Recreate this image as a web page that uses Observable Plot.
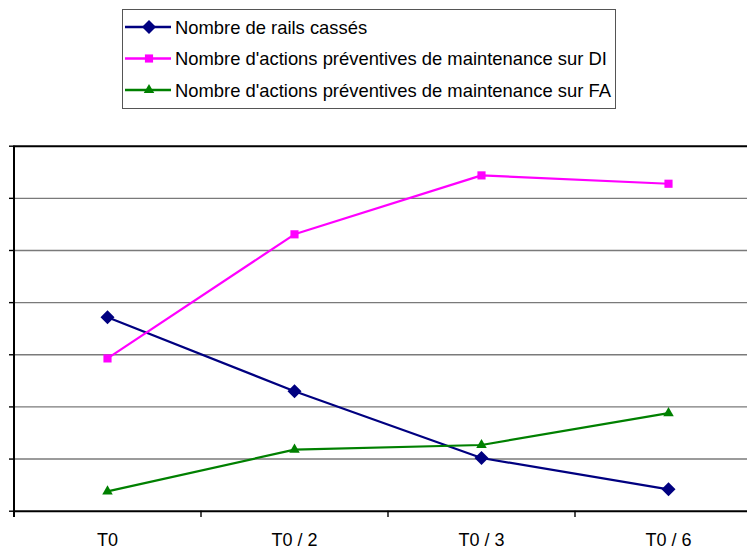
<!DOCTYPE html>
<html><head><meta charset="utf-8">
<script src="https://cdn.jsdelivr.net/npm/d3@7"></script>
<script src="https://cdn.jsdelivr.net/npm/@observablehq/plot@0.6"></script>
<style>
body{margin:0;background:#fff;font-family:"Liberation Sans",Arial,sans-serif;}
#wrap{position:relative;width:747px;height:550px;overflow:hidden;background:#fff;}
#chart{position:absolute;left:0;top:0;}
#legend{position:absolute;left:122px;top:9px;width:492px;height:98px;border:1px solid #555;background:#fff;}
#legend svg{display:block;}
</style></head><body>
<div id="wrap"><div id="chart"></div><div id="legend"></div></div>
<script>
const periods = ["T0", "T0 / 2", "T0 / 3", "T0 / 6"];
const railsCasses = [3.72, 2.30, 1.02, 0.42];
const actionsDI = [2.93, 5.31, 6.44, 6.28];
const actionsFA = [0.38, 1.18, 1.27, 1.88];
const seriesNames = [
  "Nombre de rails cassés",
  "Nombre d'actions préventives de maintenance sur DI",
  "Nombre d'actions préventives de maintenance sur FA"
];
const seriesColors = ["#000080", "#ff00ff", "#008000"];
const gridTicks = [0, 1, 2, 3, 4, 5, 6, 7];

const diamond = {draw(ctx, size) {const h = Math.sqrt(size / 2); ctx.moveTo(0, -h); ctx.lineTo(h, 0); ctx.lineTo(0, h); ctx.lineTo(-h, 0); ctx.closePath();}};
const seriesValues = [railsCasses, actionsDI, actionsFA];
const symbols = [diamond, "square", "triangle"];
const radii = [5.6, 4.6, 3.9];

const rows = [];
seriesValues.forEach((vals, s) => vals.forEach((v, i) => rows.push({serie: s, period: periods[i], value: v})));

const marks = [
  Plot.gridY(gridTicks.slice(1, -1), {stroke: "#7a7a7a", strokeOpacity: 1, strokeWidth: 1.4}),
  Plot.ruleY([0, 7], {stroke: "#000", strokeWidth: 2}),
  Plot.axisY({ticks: gridTicks, tickSize: 4, tickFormat: () => "", label: null, anchor: "left", stroke: "#000", strokeWidth: 1.4}),
  Plot.ruleX(periods, {x: d => d, dx: -93.5, y1: -0.12, y2: 0, stroke: "#000", strokeWidth: 1.4}),
  Plot.ruleX([periods[0]], {x: d => d, dx: -93.5, y1: -0.12, y2: 7, stroke: "#000", strokeWidth: 2}),
  Plot.text(periods, {x: d => d, y: 0, dy: 29, text: d => d, fontSize: 18, fill: "#000", fontFamily: "Liberation Sans, Arial, sans-serif"})
];
[0, 1, 2].forEach(s => {
  const d = rows.filter(r => r.serie === s);
  marks.push(Plot.line(d, {x: "period", y: "value", stroke: seriesColors[s], strokeWidth: 2.2}));
});
[0, 1, 2].forEach(s => {
  const d = rows.filter(r => r.serie === s);
  marks.push(Plot.dot(d, {x: "period", y: "value", symbol: symbols[s], r: radii[s], fill: seriesColors[s], stroke: "none"}));
});

const chart = Plot.plot({
  width: 747, height: 550,
  marginTop: 145.7, marginBottom: 39.3, marginLeft: 13, marginRight: 0,
  x: {type: "point", domain: periods, range: [13, 761], padding: 0.5, axis: null},
  y: {domain: [0, 7], range: [510.7, 145.7], axis: null, label: null},
  style: {background: "transparent", overflow: "hidden"},
  marks
});
document.getElementById("chart").appendChild(chart);

// legend
const lg = d3.select("#legend").append("svg").attr("width", 492).attr("height", 98);
const rowY = [17, 48.5, 80];
seriesNames.forEach((name, s) => {
  const g = lg.append("g").attr("transform", `translate(0,${rowY[s]})`);
  g.append("line").attr("x1", 2).attr("x2", 48).attr("y1", 0).attr("y2", 0).attr("stroke", seriesColors[s]).attr("stroke-width", 2.5);
  const sym = s === 0 ? d3.symbol().type({draw: diamond.draw}).size(Math.PI * radii[0] ** 2)
    : s === 1 ? d3.symbol().type(d3.symbolSquare).size(Math.PI * radii[1] ** 2)
    : d3.symbol().type(d3.symbolTriangle).size(Math.PI * radii[2] ** 2);
  g.append("path").attr("d", sym()).attr("transform", "translate(26,0)").attr("fill", seriesColors[s]);
  g.append("text").attr("x", 52).attr("y", 0).attr("dy", "0.36em").attr("font-size", 18.4).attr("fill", "#000").text(name);
});
</script>
</body></html>
